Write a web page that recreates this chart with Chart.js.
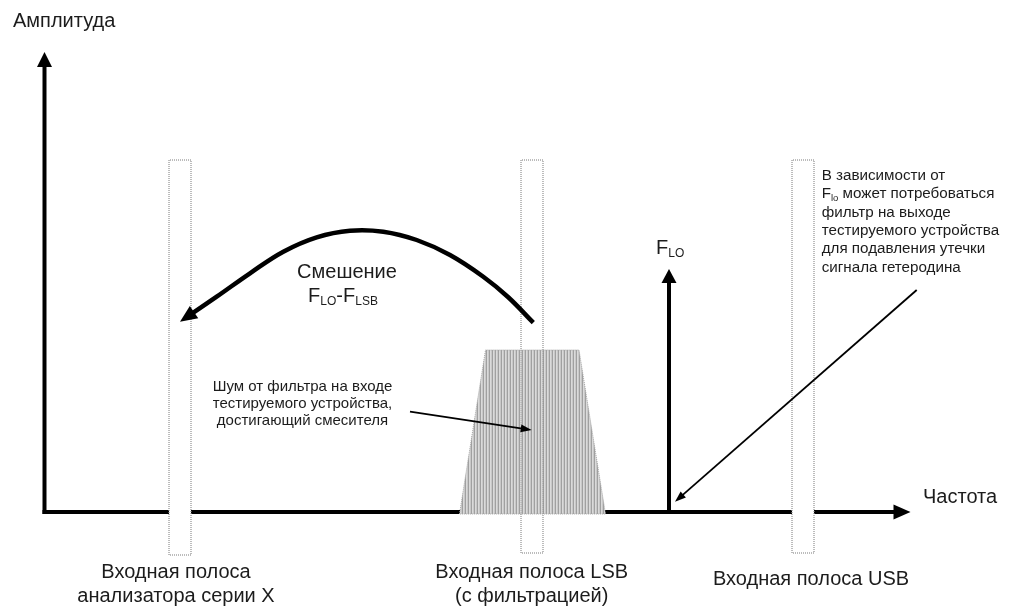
<!DOCTYPE html>
<html><head><meta charset="utf-8">
<script src="https://cdn.jsdelivr.net/npm/chart.js@4.4.0/dist/chart.umd.min.js"></script>
<style>html,body{margin:0;padding:0;background:#fff;}canvas{display:block;}</style>
</head><body>
<canvas id="c" width="1012" height="610"></canvas>
<script>
// ---- data (frequency / amplitude in arbitrary diagram units) ----
const freqAxisEnd = 86.6;
const ampAxisEnd = 46.0;
const bandLow    = [12.45, 47.65, 74.75];
const bandHigh   = [14.65, 49.85, 76.95];
const bandTop    = [35.2, 35.2, 35.2];
const bandBottom = [-4.3, -4.1, -4.1];
const bandLabels = [["Входная полоса", "анализатора серии X"], ["Входная полоса LSB", "(с фильтрацией)"], ["Входная полоса USB"]];
const noiseFreq = [41.5, 44.1, 53.45, 56.1];
const noiseAmp  = [-0.2, 16.2, 16.2, -0.2];
const loFreq = 62.45;
const loAmp = 24.3;
const mixArcFreq = [48.88, 46.35, 43.88, 40.55, 37.22, 33.88, 30.55, 27.22, 23.88, 20.55, 17.22, 13.55];
const mixArcAmp  = [18.93, 21.5, 23.53, 25.7, 27.2, 28.03, 28.13, 27.47, 26.03, 23.87, 21.53, 19.03];
const noisePtrFreq = [36.55, 48.72];
const noisePtrAmp  = [10.03, 8.2];
const leakPtrFreq = [87.22, 63.05];
const leakPtrAmp  = [22.2, 1.03];

const FONT = '"Liberation Sans", Arial, sans-serif';
const TXT = '#1c1c1c';

const canvas = document.getElementById('c');
const ctx0 = canvas.getContext('2d');
function stripePattern() {
  const c = document.createElement('canvas'); c.width = 3; c.height = 1;
  const g = c.getContext('2d');
  g.fillStyle = '#a0a0a0'; g.fillRect(0, 0, 1, 1);
  g.fillStyle = '#dadada'; g.fillRect(1, 0, 1, 1);
  g.fillStyle = '#c8c8c8'; g.fillRect(2, 0, 1, 1);
  return ctx0.createPattern(c, 'repeat');
}
const pts = (xs, ys) => xs.map((x, i) => ({x: x, y: ys[i]}));

const datasets = [];
datasets.push({data: pts([0, 0], [0, ampAxisEnd]), borderColor: '#000', borderWidth: 4, borderCapStyle: 'square', arrowHead: {len: 15, width: 15}, order: 10});
datasets.push({data: pts([0, freqAxisEnd], [0, 0]), borderColor: '#000', borderWidth: 4, borderCapStyle: 'square', arrowHead: {len: 17, width: 15}, order: 10});
bandLow.forEach((lo, i) => {
  const hi = bandHigh[i], t = bandTop[i], b = bandBottom[i];
  datasets.push({data: pts([lo, lo, hi, hi, lo], [b, t, t, b, b]), borderColor: '#a0a0a0', borderWidth: 1, borderDash: [1, 1], backgroundColor: '#ffffff', fill: 'shape', order: 9});
  // faint outline visible through the noise area
  datasets.push({data: pts([lo, lo, hi, hi, lo], [b, t, t, b, b]), borderColor: 'rgba(120,120,120,0.45)', borderWidth: 1, borderDash: [1, 1], order: 7});
});
datasets.push({data: pts(noiseFreq.concat([noiseFreq[0]]), noiseAmp.concat([noiseAmp[0]])), borderColor: '#a8a8a8', borderWidth: 1, borderDash: [1, 1], backgroundColor: stripePattern(), fill: 'shape', order: 8});
datasets.push({data: pts([loFreq, loFreq], [0, loAmp]), borderColor: '#000', borderWidth: 4, arrowHead: {len: 14, width: 15}, order: 3});
datasets.push({data: pts(mixArcFreq, mixArcAmp), borderColor: '#000', borderWidth: 4.5, tension: 0.4, arrowHead: {len: 17, width: 15}, order: 2});
datasets.push({data: pts(noisePtrFreq, noisePtrAmp), borderColor: '#000', borderWidth: 1.8, arrowHead: {len: 11, width: 8}, order: 1});
datasets.push({data: pts(leakPtrFreq, leakPtrAmp), borderColor: '#000', borderWidth: 1.8, arrowHead: {len: 11, width: 8}, order: 1});
datasets.forEach(d => { d.showLine = true; d.pointRadius = 0; if (!d.fill) d.fill = false; });

const arrowPlugin = {
  id: 'arrowHeads',
  beforeDatasetDraw(chart, args) {
    const ds = chart.data.datasets[args.index];
    if (!ds.arrowHead) return;
    const el = args.meta.data, n = el.length;
    const xs = chart.scales.x, ys = chart.scales.y;
    const a = ds.data[n - 1], b = ds.data[n - 2];
    const tx = xs.getPixelForValue(a.x), ty = ys.getPixelForValue(a.y);
    const px = xs.getPixelForValue(b.x), py = ys.getPixelForValue(b.y);
    const d = Math.hypot(tx - px, ty - py), ux = (tx - px) / d, uy = (ty - py) / d;
    el[n - 1].x = tx - ux * ds.arrowHead.len * 0.7;
    el[n - 1].y = ty - uy * ds.arrowHead.len * 0.7;
    ds._tip = {tx, ty, ux, uy};
  },
  afterDatasetDraw(chart, args) {
    const ds = chart.data.datasets[args.index];
    if (!ds.arrowHead || !ds._tip) return;
    const {tx, ty, ux, uy} = ds._tip, L = ds.arrowHead.len, W = ds.arrowHead.width / 2;
    const c = chart.ctx;
    c.save();
    c.fillStyle = ds.borderColor;
    c.beginPath();
    c.moveTo(tx, ty);
    c.lineTo(tx - ux * L - uy * W, ty - uy * L + ux * W);
    c.lineTo(tx - ux * L + uy * W, ty - uy * L - ux * W);
    c.closePath();
    c.fill();
    c.restore();
  }
};

// text notes: segments [text, size, baselineShift]
const notes = [
  {x: -3.15, y: 48.5, align: 'left', lh: 0, lines: [[['Амплитуда', 20, 0]]]},
  {x: 87.85, y: 0.9, align: 'left', lh: 0, lines: [[['Частота', 20, 0]]]},
  {x: 30.25, y: 23.4, align: 'center', lh: 0, lines: [[['Смешение', 20, 0]]]},
  {x: 29.85, y: 21.0, align: 'center', lh: 0, lines: [[['F', 20, 0], ['LO', 12, 3], ['-F', 20, 0], ['LSB', 12, 3]]]},
  {x: 61.15, y: 25.85, align: 'left', lh: 0, lines: [[['F', 20, 0], ['LO', 12, 3]]]},
  {x: 25.8, y: 12.13, align: 'center', lh: 17.2, lines: [
    [['Шум от фильтра на входе', 15, 0]],
    [['тестируемого устройства,', 15, 0]],
    [['достигающий смесителя', 15, 0]]]},
  {x: 77.72, y: 33.2, align: 'left', lh: 18.35, lines: [
    [['В зависимости от', 15.2, 0]],
    [['F', 15.2, 0], ['lo', 9.5, 2.5], [' может потребоваться', 15.2, 0]],
    [['фильтр на выходе', 15.2, 0]],
    [['тестируемого устройства', 15.2, 0]],
    [['для подавления утечки', 15.2, 0]],
    [['сигнала гетеродина', 15.2, 0]]]}
];
const bandLabelPos = [[13.15, -6.6], [48.72, -6.57], [76.65, -7.3]];
bandLabels.forEach((ls, i) => {
  notes.push({x: bandLabelPos[i][0], y: bandLabelPos[i][1], align: 'center', lh: 23.9, lines: ls.map(t => [[t, 20, 0]])});
});

function drawRich(c, segs, x, y, align) {
  let w = 0;
  const ws = segs.map(s => { c.font = s[1] + 'px ' + FONT; const m = c.measureText(s[0]).width; w += m; return m; });
  let cx = align === 'center' ? x - w / 2 : x;
  segs.forEach((s, i) => { c.font = s[1] + 'px ' + FONT; c.fillText(s[0], cx, y + s[2]); cx += ws[i]; });
}
const textPlugin = {
  id: 'notes',
  afterDatasetsDraw(chart) {
    const c = chart.ctx, xs = chart.scales.x, ys = chart.scales.y;
    c.save();
    c.fillStyle = TXT;
    c.textBaseline = 'alphabetic';
    c.textAlign = 'left';
    notes.forEach(n => {
      const x = xs.getPixelForValue(n.x), y = ys.getPixelForValue(n.y);
      n.lines.forEach((segs, i) => drawRich(c, segs, x, y + i * n.lh, n.align));
    });
    c.restore();
  }
};

new Chart(canvas, {
  type: 'scatter',
  data: {datasets: datasets},
  options: {
    responsive: false,
    animation: false,
    devicePixelRatio: 1,
    events: [],
    layout: {padding: 0},
    scales: {
      x: {type: 'linear', min: -4.45, max: 96.75, display: false},
      y: {type: 'linear', min: -9.8, max: 51.2, display: false}
    },
    plugins: {legend: {display: false}, tooltip: {enabled: false}}
  },
  plugins: [arrowPlugin, textPlugin]
});
</script>
</body></html>
